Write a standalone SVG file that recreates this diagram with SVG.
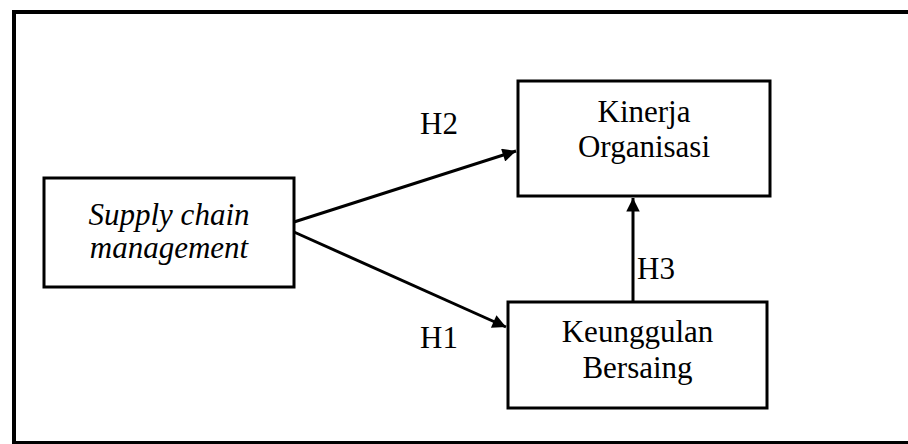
<svg xmlns="http://www.w3.org/2000/svg" width="908" height="444" viewBox="0 0 908 444">
<defs>
<style>
.box{fill:#fff;stroke:#000;stroke-width:3}
.t{font-family:"Liberation Serif","Times New Roman",serif;font-size:31px;fill:#000;text-anchor:middle}
.it{font-style:italic}
.lbl{font-family:"Liberation Serif","Times New Roman",serif;font-size:31px;fill:#000}
.c{stroke:#000;stroke-width:3;fill:none}
</style>
<marker id="ah" viewBox="0 0 10 10" refX="10" refY="5" markerWidth="6" markerHeight="4.5" markerUnits="strokeWidth" orient="auto">
<path d="M0,0 L10,5 L0,10 z" fill="#000"/>
</marker>
</defs>
<rect x="0" y="0" width="908" height="444" fill="#fff"/>
<rect id="frame" x="14" y="12" width="900" height="431" fill="none" stroke="#000" stroke-width="4"/>
<g id="scm">
<rect class="box" x="44" y="178" width="250" height="109"/>
<text class="t it" x="169" y="225">Supply chain</text>
<text class="t it" x="169" y="258">management</text>
</g>
<g id="kinerja">
<rect class="box" x="518" y="81" width="252" height="115"/>
<text class="t" x="644" y="122">Kinerja</text>
<text class="t" x="644" y="157">Organisasi</text>
</g>
<g id="keunggulan">
<rect class="box" x="508" y="302" width="259" height="106"/>
<text class="t" x="637.5" y="342">Keunggulan</text>
<text class="t" x="637.5" y="378">Bersaing</text>
</g>
<g id="connectors">
<line class="c" x1="294" y1="222" x2="516" y2="151" marker-end="url(#ah)"/>
<line class="c" x1="294" y1="232" x2="506" y2="327" marker-end="url(#ah)"/>
<line class="c" x1="633" y1="302" x2="633" y2="198" marker-end="url(#ah)"/>
</g>
<g id="labels">
<text class="lbl" x="420" y="134">H2</text>
<text class="lbl" x="420" y="348">H1</text>
<text class="lbl" x="637" y="279">H3</text>
</g>
</svg>
